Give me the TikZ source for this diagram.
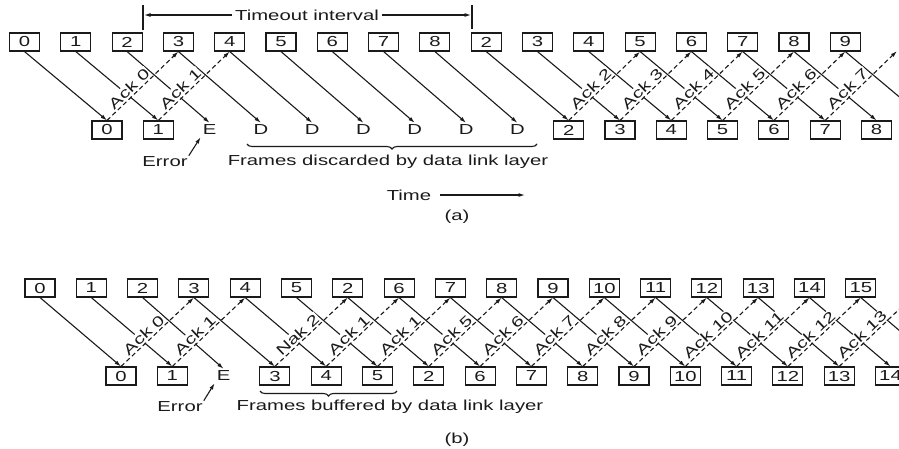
\documentclass[tikz,border=0pt]{standalone}
\usepackage{fontspec}
\setmainfont{Liberation Sans}[FakeStretch=1.4]
\usepackage{tikz}
\usetikzlibrary{arrows.meta,decorations.pathreplacing}
\definecolor{ink}{HTML}{1A1A1A}
\definecolor{paper}{HTML}{FFFFFF}
\newcommand\figtxt{\fontsize{14.5}{16}\selectfont}
\tikzset{
  frm/.style={draw=ink,line width=1.1pt,minimum width=30pt,minimum height=18pt,inner sep=0pt,font=\figtxt,text=ink},
  lost/.style={inner sep=2pt,font=\figtxt,text=ink},
  sent/.style={-{Latex[length=6.5pt,width=4pt]},line width=1.1pt,draw=ink},
  ack/.style={sent,dash pattern=on 4.5pt off 3pt},
  acklbl/.style={pos=0.38,sloped,above=0.5pt,fill=paper,inner sep=1pt,font=\figtxt,text=ink},
  capt/.style={font=\figtxt,inner sep=1pt,text=ink},
  brc/.style={decorate,decoration={brace,amplitude=5pt},line width=1.1pt,draw=ink}
}

\begin{document}
\begin{tikzpicture}[x=1pt,y=-1pt,>=Latex]
  \useasboundingbox (0,0) rectangle (899,448);
  \clip (0,0) rectangle (899,448);

  % (a) go back n
  \foreach \t [count=\i from 0] in {0,1,2,3,4,5,6,7,8,2,3,4,5,6,7,8,9}
    \node[frm] (ta\i) at ({24.5+51.3*\i},42) {\t};
  \foreach \t/\j in {0/0,1/1,2/9,3/10,4/11,5/12,6/13,7/14,8/15}
    \node[frm] (ba\j) at ({107+51.3*\j},130) {\t};
  \node[lost] (ba2) at ({107+51.3*2},130) {E};
  \foreach \j in {3,...,8}
    \node[lost] (ba\j) at ({107+51.3*\j},130) {D};
  \coordinate (ta16end) at (928,121);
  \coordinate (ta17) at (897,51);

  \foreach \i in {0,...,15} \draw[sent] (ta\i.south) -- (ba\i.north);
  \draw[sent] (ta16.south) -- (ta16end);
  \foreach \j/\k/\n in {0/3/0,1/4/1,9/12/2,10/13/3,11/14/4,12/15/5,13/16/6}
    \draw[ack] (ba\j.north) -- (ta\k.south) node[acklbl] {Ack \n};
  \draw[ack] (ba14.north) -- (ta17) node[acklbl] {Ack 7};

  \node[capt,fill=paper] (tout) at (307,15) {Timeout interval};
  \coordinate (toL) at (143,15); \coordinate (toR) at (472,15);
  \draw[line width=1.1pt,draw=ink] (143,5) -- (143,30) (472,5) -- (472,29);
  \draw[sent,shorten <=2pt,shorten >=1pt] (tout) -- (toL);
  \draw[sent,shorten <=2pt,shorten >=1pt] (tout) -- (toR);

  \node[capt] (erra) at (165,162) {Error};
  \draw[sent] (erra.north east) -- (ba2.south west);
  \draw[brc] (537,144) -- (247,144);
  \node[capt] (disc) at (388,162) {Frames discarded by data link layer};
  \node[capt] (time) at (409,195) {Time};
  \coordinate (timeend) at (525,195);
  \draw[sent,shorten <=8pt] (time) -- (timeend);
  \node[capt] (capa) at (457,217) {(a)};

  % (b) selective repeat
  \foreach \t [count=\i from 0] in {0,1,2,3,4,5,2,6,7,8,9,10,11,12,13,14,15}
    \node[frm] (tb\i) at ({40+51.3*\i},288) {\t};
  \foreach \t/\j in {0/0,1/1,3/3,4/4,5/5,2/6,6/7,7/8,8/9,9/10,10/11,11/12,12/13,13/14,14/15}
    \node[frm] (bb\j) at ({121+51.3*\j},376) {\t};
  \node[lost] (bb2) at ({121+51.3*2},376) {E};
  \coordinate (tb16end) at (942,367);
  \coordinate (tb17) at (912,297);

  \foreach \i in {0,...,15} \draw[sent] (tb\i.south) -- (bb\i.north);
  \draw[sent] (tb16.south) -- (tb16end);
  \foreach \j/\k/\n in {0/3/Ack 0,1/4/Ack 1,3/6/Nak 2,4/7/Ack 1,5/8/Ack 1,6/9/Ack 5,7/10/Ack 6,8/11/Ack 7,9/12/Ack 8,10/13/Ack 9,11/14/Ack 10,12/15/Ack 11,13/16/Ack 12}
    \draw[ack] (bb\j.north) -- (tb\k.south) node[acklbl] {\n};
  \draw[ack] (bb14.north) -- (tb17) node[acklbl] {Ack 13};

  \node[capt] (errb) at (180,407) {Error};
  \draw[sent] (errb.north east) -- (bb2.south west);
  \draw[brc] (397,391) -- (260,391);
  \node[capt] (buff) at (390,407) {Frames buffered by data link layer};
  \node[capt] (capb) at (457,440) {(b)};
\end{tikzpicture}
\end{document}
